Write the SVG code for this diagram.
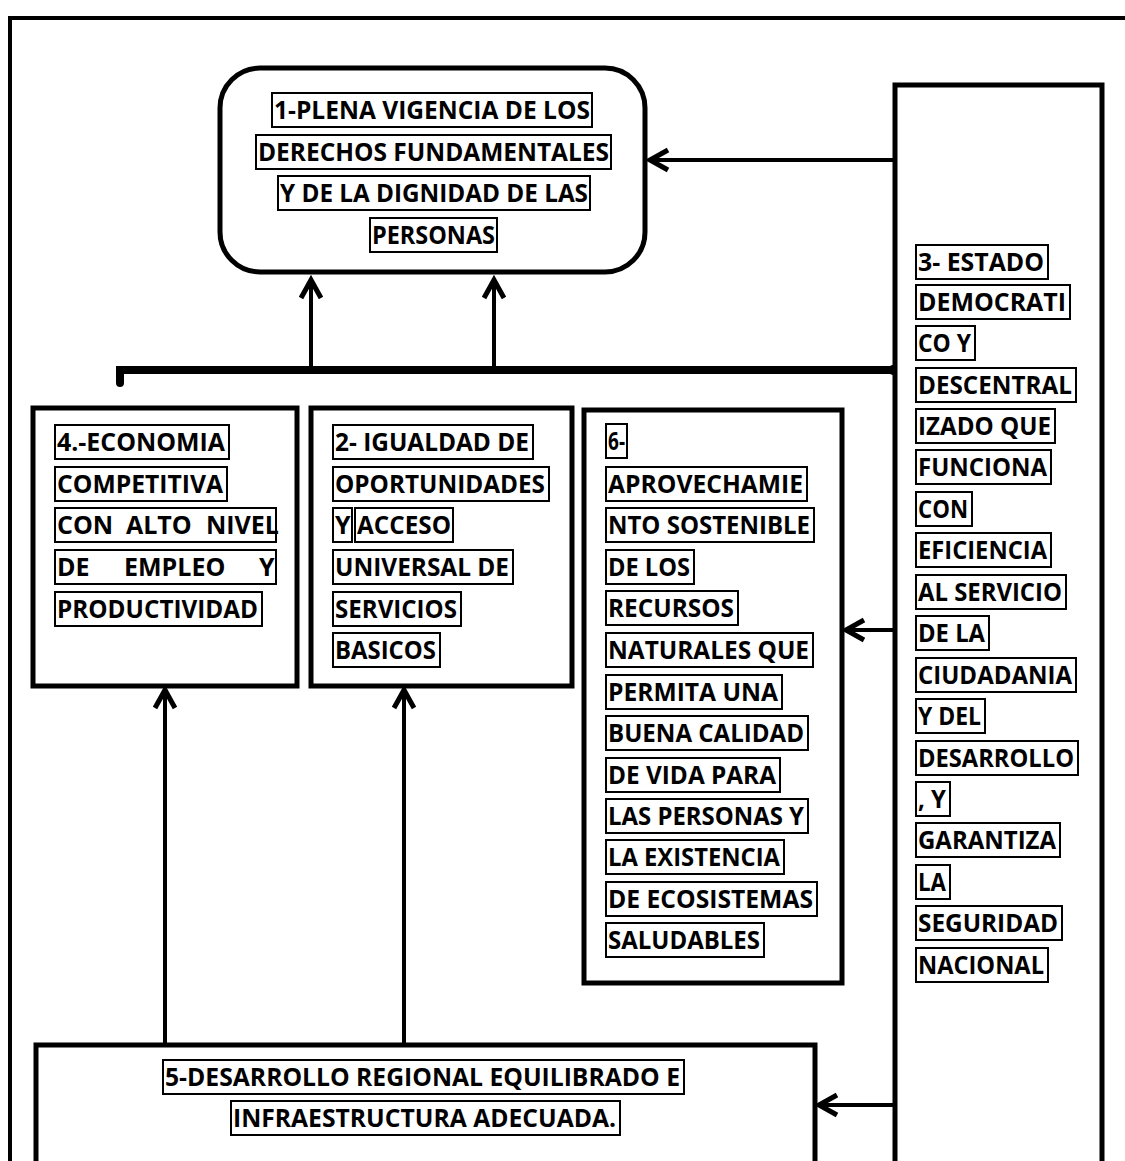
<svg xmlns="http://www.w3.org/2000/svg" width="1125" height="1161" viewBox="0 0 1125 1161">
<style>
.box{fill:#fff;stroke:#000;stroke-width:5}
.tb{fill:none;stroke:#000;stroke-width:2}
.t{font-family:"Open Sans","Liberation Sans",sans-serif;font-size:25px;font-weight:700;fill:#000}
.ln{fill:none;stroke:#000;stroke-width:4}
.hd{fill:none;stroke:#000;stroke-width:5;stroke-linejoin:miter}
</style>
<rect width="1125" height="1161" fill="#fff"/>
<g id="frame">
<path class="ln" d="M10,1161 V18 H1125"/>
</g>
<g id="connectors">
<path class="ln" d="M311,370 V280 M494,370 V280"/>
<path class="hd" d="M301,298 L311,280 L321,298 M484,298 L494,280 L504,298"/>
<path d="M120,383 V370 H893" fill="none" stroke="#000" stroke-width="8" stroke-linecap="round"/>
<circle cx="893" cy="370" r="5"/>
<path class="ln" d="M893,160 H650"/>
<path class="hd" d="M668,150 L650,160 L668,170"/>
<path class="ln" d="M893,630 H846"/>
<path class="hd" d="M864,620 L846,630 L864,640"/>
<path class="ln" d="M893,1105 H819"/>
<path class="hd" d="M837,1095 L819,1105 L837,1115"/>
<path class="ln" d="M165,1045 V690 M404,1045 V690"/>
<path class="hd" d="M155,708 L165,690 L175,708 M394,708 L404,690 L414,708"/>
</g>
<g id="n1">
<rect class="box" x="220" y="68" width="425" height="204" rx="40"/>
<rect class="tb" x="272" y="93" width="320" height="34"/><text class="t" x="274" y="119" textLength="316" lengthAdjust="spacingAndGlyphs">1-PLENA VIGENCIA DE LOS</text>
<rect class="tb" x="256" y="135" width="355" height="34"/><text class="t" x="258" y="161" textLength="351" lengthAdjust="spacingAndGlyphs">DERECHOS FUNDAMENTALES</text>
<rect class="tb" x="278" y="176" width="312" height="34"/><text class="t" x="280" y="202" textLength="308" lengthAdjust="spacingAndGlyphs">Y DE LA DIGNIDAD DE LAS</text>
<rect class="tb" x="370" y="218" width="127" height="34"/><text class="t" x="372" y="244" textLength="123" lengthAdjust="spacingAndGlyphs">PERSONAS</text>
</g>
<g id="n4">
<rect class="box" x="33" y="408" width="264" height="278"/>
<rect class="tb" x="55" y="425" width="174" height="34"/><text class="t" x="57" y="451" textLength="168" lengthAdjust="spacingAndGlyphs">4.-ECONOMIA</text>
<rect class="tb" x="55" y="467" width="172" height="34"/><text class="t" x="57" y="493" textLength="166" lengthAdjust="spacingAndGlyphs">COMPETITIVA</text>
<rect class="tb" x="55" y="508" width="221" height="34"/><text class="t" y="534"><tspan x="57">CON</tspan><tspan x="126">ALTO</tspan><tspan x="206">NIVEL</tspan></text>
<rect class="tb" x="55" y="550" width="221" height="34"/><text class="t" y="576"><tspan x="57">DE</tspan><tspan x="124">EMPLEO</tspan><tspan x="259">Y</tspan></text>
<rect class="tb" x="55" y="592" width="207" height="34"/><text class="t" x="57" y="618" textLength="201" lengthAdjust="spacingAndGlyphs">PRODUCTIVIDAD</text>
</g>
<g id="n2">
<rect class="box" x="311" y="408" width="261" height="278"/>
<rect class="tb" x="333" y="425" width="200" height="34"/><text class="t" x="335" y="451" textLength="194" lengthAdjust="spacingAndGlyphs">2- IGUALDAD DE</text>
<rect class="tb" x="333" y="467" width="216" height="34"/><text class="t" x="335" y="493" textLength="210" lengthAdjust="spacingAndGlyphs">OPORTUNIDADES</text>
<rect class="tb" x="333" y="508" width="19" height="34"/><text class="t" x="335" y="534">Y</text>
<rect class="tb" x="355" y="508" width="98" height="34"/><text class="t" x="357" y="534" textLength="94" lengthAdjust="spacingAndGlyphs">ACCESO</text>
<rect class="tb" x="333" y="550" width="180" height="34"/><text class="t" x="335" y="576" textLength="174" lengthAdjust="spacingAndGlyphs">UNIVERSAL DE</text>
<rect class="tb" x="333" y="592" width="128" height="34"/><text class="t" x="335" y="618" textLength="122" lengthAdjust="spacingAndGlyphs">SERVICIOS</text>
<rect class="tb" x="333" y="633" width="107" height="34"/><text class="t" x="335" y="659" textLength="101" lengthAdjust="spacingAndGlyphs">BASICOS</text>
</g>
<g id="n6">
<rect class="box" x="584" y="410" width="258" height="573"/>
<rect class="tb" x="606" y="424" width="21" height="34"/><text class="t" x="608" y="450" textLength="17" lengthAdjust="spacingAndGlyphs">6-</text>
<rect class="tb" x="606" y="467" width="201" height="34"/><text class="t" x="608" y="493" textLength="195" lengthAdjust="spacingAndGlyphs">APROVECHAMIE</text>
<rect class="tb" x="606" y="508" width="208" height="34"/><text class="t" x="608" y="534" textLength="202" lengthAdjust="spacingAndGlyphs">NTO SOSTENIBLE</text>
<rect class="tb" x="606" y="550" width="88" height="34"/><text class="t" x="608" y="576" textLength="82" lengthAdjust="spacingAndGlyphs">DE LOS</text>
<rect class="tb" x="606" y="591" width="132" height="34"/><text class="t" x="608" y="617" textLength="126" lengthAdjust="spacingAndGlyphs">RECURSOS</text>
<rect class="tb" x="606" y="633" width="207" height="34"/><text class="t" x="608" y="659" textLength="201" lengthAdjust="spacingAndGlyphs">NATURALES QUE</text>
<rect class="tb" x="606" y="675" width="176" height="34"/><text class="t" x="608" y="701" textLength="170" lengthAdjust="spacingAndGlyphs">PERMITA UNA</text>
<rect class="tb" x="606" y="716" width="202" height="34"/><text class="t" x="608" y="742" textLength="196" lengthAdjust="spacingAndGlyphs">BUENA CALIDAD</text>
<rect class="tb" x="606" y="758" width="174" height="34"/><text class="t" x="608" y="784" textLength="168" lengthAdjust="spacingAndGlyphs">DE VIDA PARA</text>
<rect class="tb" x="606" y="799" width="202" height="34"/><text class="t" x="608" y="825" textLength="196" lengthAdjust="spacingAndGlyphs">LAS PERSONAS Y</text>
<rect class="tb" x="606" y="840" width="178" height="34"/><text class="t" x="608" y="866" textLength="172" lengthAdjust="spacingAndGlyphs">LA EXISTENCIA</text>
<rect class="tb" x="606" y="882" width="211" height="34"/><text class="t" x="608" y="908" textLength="205" lengthAdjust="spacingAndGlyphs">DE ECOSISTEMAS</text>
<rect class="tb" x="606" y="923" width="158" height="34"/><text class="t" x="608" y="949" textLength="152" lengthAdjust="spacingAndGlyphs">SALUDABLES</text>
</g>
<g id="n3">
<path class="box" d="M895,1161 V85 H1102 V1161"/>
<rect class="tb" x="916" y="245" width="132" height="34"/><text class="t" x="918" y="271" textLength="126" lengthAdjust="spacingAndGlyphs">3- ESTADO</text>
<rect class="tb" x="916" y="285" width="154" height="34"/><text class="t" x="918" y="311" textLength="148" lengthAdjust="spacingAndGlyphs">DEMOCRATI</text>
<rect class="tb" x="916" y="326" width="59" height="34"/><text class="t" x="918" y="352" textLength="53" lengthAdjust="spacingAndGlyphs">CO Y</text>
<rect class="tb" x="916" y="368" width="160" height="34"/><text class="t" x="918" y="394" textLength="154" lengthAdjust="spacingAndGlyphs">DESCENTRAL</text>
<rect class="tb" x="916" y="409" width="139" height="34"/><text class="t" x="918" y="435" textLength="133" lengthAdjust="spacingAndGlyphs">IZADO QUE</text>
<rect class="tb" x="916" y="450" width="135" height="34"/><text class="t" x="918" y="476" textLength="129" lengthAdjust="spacingAndGlyphs">FUNCIONA</text>
<rect class="tb" x="916" y="492" width="56" height="34"/><text class="t" x="918" y="518" textLength="50" lengthAdjust="spacingAndGlyphs">CON</text>
<rect class="tb" x="916" y="533" width="135" height="34"/><text class="t" x="918" y="559" textLength="129" lengthAdjust="spacingAndGlyphs">EFICIENCIA</text>
<rect class="tb" x="916" y="575" width="150" height="34"/><text class="t" x="918" y="601" textLength="144" lengthAdjust="spacingAndGlyphs">AL SERVICIO</text>
<rect class="tb" x="916" y="616" width="73" height="34"/><text class="t" x="918" y="642" textLength="67" lengthAdjust="spacingAndGlyphs">DE LA</text>
<rect class="tb" x="916" y="658" width="160" height="34"/><text class="t" x="918" y="684" textLength="154" lengthAdjust="spacingAndGlyphs">CIUDADANIA</text>
<rect class="tb" x="916" y="699" width="69" height="34"/><text class="t" x="918" y="725" textLength="63" lengthAdjust="spacingAndGlyphs">Y DEL</text>
<rect class="tb" x="916" y="741" width="162" height="34"/><text class="t" x="918" y="767" textLength="156" lengthAdjust="spacingAndGlyphs">DESARROLLO</text>
<rect class="tb" x="916" y="782" width="34" height="34"/><text class="t" x="918" y="808" textLength="28" lengthAdjust="spacingAndGlyphs">, Y</text>
<rect class="tb" x="916" y="823" width="144" height="34"/><text class="t" x="918" y="849" textLength="138" lengthAdjust="spacingAndGlyphs">GARANTIZA</text>
<rect class="tb" x="916" y="865" width="34" height="34"/><text class="t" x="918" y="891" textLength="28" lengthAdjust="spacingAndGlyphs">LA</text>
<rect class="tb" x="916" y="906" width="146" height="34"/><text class="t" x="918" y="932" textLength="140" lengthAdjust="spacingAndGlyphs">SEGURIDAD</text>
<rect class="tb" x="916" y="948" width="132" height="34"/><text class="t" x="918" y="974" textLength="126" lengthAdjust="spacingAndGlyphs">NACIONAL</text>
</g>
<g id="n5">
<path class="box" d="M36,1161 V1045 H815 V1161"/>
<rect class="tb" x="163" y="1060" width="521" height="34"/><text class="t" x="165" y="1086" textLength="515" lengthAdjust="spacingAndGlyphs">5-DESARROLLO REGIONAL  EQUILIBRADO E</text>
<rect class="tb" x="231" y="1101" width="389" height="34"/><text class="t" x="233" y="1127" textLength="383" lengthAdjust="spacingAndGlyphs">INFRAESTRUCTURA ADECUADA.</text>
</g>
</svg>
